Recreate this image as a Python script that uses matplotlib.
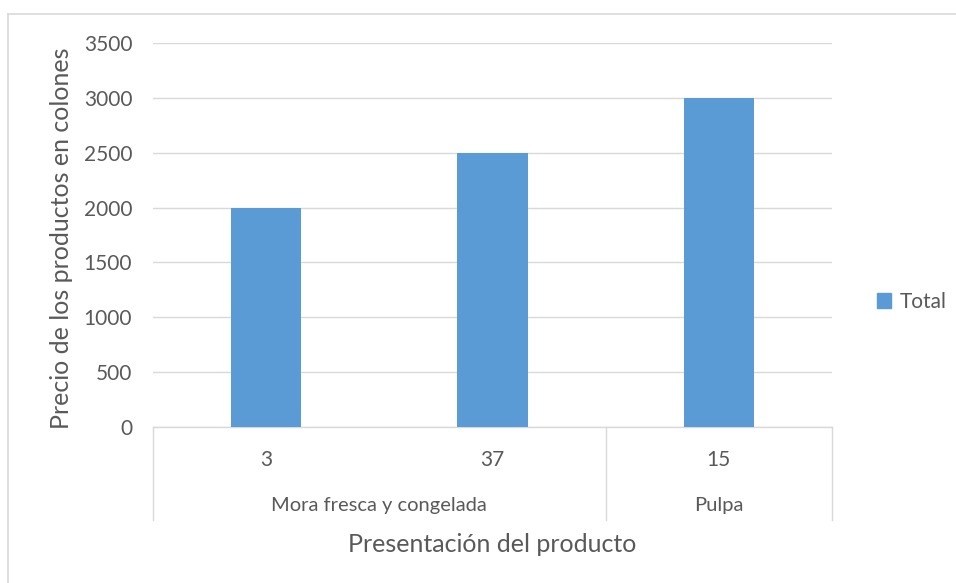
import matplotlib
matplotlib.use("Agg")
import matplotlib.pyplot as plt
from matplotlib.lines import Line2D
import matplotlib.transforms as mtransforms

# data
sub_labels = ["3", "37", "15"]
groups = ["Mora fresca y congelada", "Pulpa"]
group_sizes = [2, 1]
values = [2000, 2500, 3000]
yticks = [0, 500, 1000, 1500, 2000, 2500, 3000, 3500]

W, H = 956, 583
plt.rcParams['font.family'] = ['Lato', 'DejaVu Sans']
txt = "#595959"
grid = "#D9D9D9"
bar_col = "#5B9BD5"

fig = plt.figure(figsize=(W / 100, H / 100), dpi=100)
# plot area in pixels: x 153..832, y 43..427
x0, x1, y0, y1 = 153, 832, 43, 427
ax = fig.add_axes([x0 / W, 1 - y1 / H, (x1 - x0) / W, (y1 - y0) / H])

xs = list(range(len(values)))
ax.bar(xs, values, width=0.31, color=bar_col, zorder=3, label="Total")
ax.set_xlim(-0.5, len(values) - 0.5)
ax.set_ylim(0, 3500)
ax.set_yticks(yticks)
ax.set_yticklabels([str(v) for v in yticks], fontsize=15, color=txt)
ax.tick_params(axis='y', length=0, pad=15)
ax.set_xticks([])
ax.grid(axis='y', color=grid, lw=1, zorder=0)
for s in ["top", "right", "left"]:
    ax.spines[s].set_visible(False)
ax.spines["bottom"].set_color(grid)
ax.spines["bottom"].set_linewidth(1)

# multi-level category axis
trans = mtransforms.blended_transform_factory(ax.transData, ax.transAxes)
ph = y1 - y0
def fy(py):
    return (y1 - py) / ph

for i, lab in enumerate(sub_labels):
    ax.text(i, fy(460), lab, transform=trans, ha='center', va='center',
            fontsize=15, color=txt)

bounds = [-0.5]
start = 0
for g, n in zip(groups, group_sizes):
    mid = start + (n - 1) / 2
    ax.text(mid, fy(506), g, transform=trans, ha='center', va='center',
            fontsize=14.5, color=txt)
    start += n
    bounds.append(start - 0.5)
for b in bounds:
    ax.add_line(Line2D([b, b], [0, fy(520)], transform=trans, color=grid,
                       lw=1, clip_on=False))

ax.text(0.5, fy(545), "Presentación del producto", transform=ax.transAxes,
        ha='center', va='center', fontsize=18, color=txt)
fig.text(62 / W, 1 - 238 / H, "Precio de los productos en colones",
         rotation=90, ha='center', va='center', fontsize=18, color=txt)

leg = fig.legend(handles=[plt.Rectangle((0, 0), 1, 1, color=bar_col)],
                 labels=["Total"], loc='center left',
                 bbox_to_anchor=(858 / W, 1 - 302 / H), frameon=False,
                 fontsize=15, handlelength=0.7, handleheight=0.7,
                 handletextpad=0.4)
for t in leg.get_texts():
    t.set_color(txt)

# chart area border (left and top visible)
fig.add_artist(Line2D([8 / W, 8 / W], [0, 1 - 14 / H], transform=fig.transFigure,
                      color=grid, lw=1.2))
fig.add_artist(Line2D([8 / W, 1], [1 - 14 / H, 1 - 14 / H], transform=fig.transFigure,
                      color=grid, lw=1.2))

fig.savefig("out.png", dpi=100, facecolor="white")
